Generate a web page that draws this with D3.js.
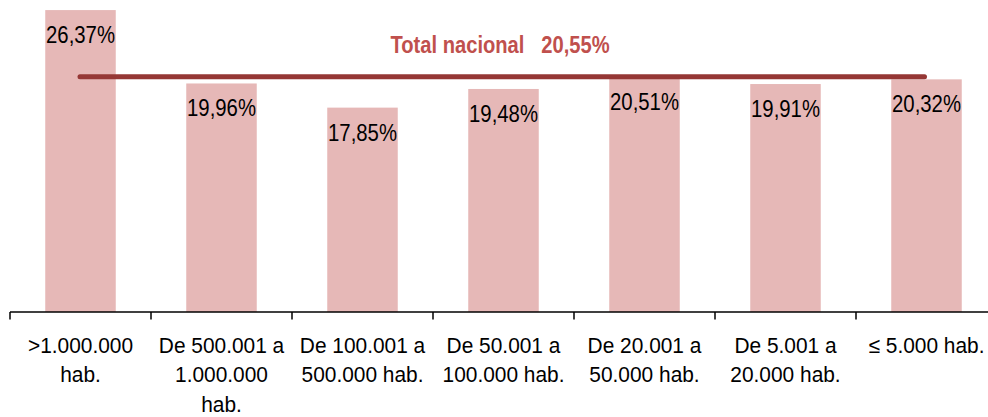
<!DOCTYPE html>
<html><head><meta charset="utf-8">
<script src="https://cdn.jsdelivr.net/npm/d3@7"></script>
<style>
html,body{margin:0;padding:0;background:#fff;}
svg{display:block;}
text{font-family:"Liberation Sans Narrow","Arial Narrow","Liberation Sans",Arial,sans-serif;}
</style></head>
<body>
<svg id="chart" width="988" height="417"></svg>
<script>
const categories = [
  [">1.000.000", "hab."],
  ["De 500.001 a", "1.000.000", "hab."],
  ["De 100.001 a", "500.000 hab."],
  ["De 50.001 a", "100.000 hab."],
  ["De 20.001 a", "50.000 hab."],
  ["De 5.001 a", "20.000 hab."],
  ["≤ 5.000 hab."]
];
const values = [26.37, 19.96, 17.85, 19.48, 20.51, 19.91, 20.32];
const totalLabel = "Total nacional";
const totalValue = 20.55;

const fmt = v => v.toFixed(2).replace(".", ",") + "%";
const keys = categories.map((c, i) => i);

const svg = d3.select("#chart");
const x = d3.scaleBand().domain(keys).range([10, 997]).paddingInner(0.5).paddingOuter(0.25);
const y = d3.scaleLinear().domain([0, 27.25]).range([312, 0]);

// bars
svg.append("g").selectAll("rect").data(values).join("rect")
  .attr("x", (d, i) => x(i))
  .attr("y", d => y(d))
  .attr("width", x.bandwidth())
  .attr("height", d => y(0) - y(d))
  .attr("fill", "#e6b8b7");

// value labels
svg.append("g").selectAll("text").data(values).join("text")
  .attr("transform", (d, i) => `translate(${x(i) + x.bandwidth() / 2},${y(d) + 33}) scale(0.83,1)`)
  .attr("text-anchor", "middle")
  .attr("font-size", 24.5)
  .attr("fill", "#000")
  .text(d => fmt(d));

// total line
const cx0 = x(keys[0]) + x.bandwidth() / 2;
const cx1 = x(keys[keys.length - 1]) + x.bandwidth() / 2;
svg.append("line")
  .attr("x1", cx0 - 0.5).attr("x2", cx1 - 2)
  .attr("y1", y(totalValue)).attr("y2", y(totalValue))
  .attr("stroke", "#953735").attr("stroke-width", 5).attr("stroke-linecap", "round");

svg.append("text")
  .attr("transform", "translate(500,53) scale(0.84,1)")
  .attr("text-anchor", "middle")
  .attr("font-size", 24).attr("font-weight", "bold")
  .attr("fill", "#c0504d")
  .attr("xml:space", "preserve")
  .style("white-space", "pre")
  .text(totalLabel + "   " + fmt(totalValue));

// axis
const axisG = svg.append("g").attr("transform", `translate(0,${y(0)})`);
const ax = d3.axisBottom(x).tickSize(0).tickFormat(() => "");
axisG.call(ax);
axisG.select(".domain").remove();
axisG.selectAll(".tick").each(function(d, i) {
  const t = d3.select(this).select("text").text(null)
    .attr("y", 41).attr("dy", null)
    .attr("transform", "scale(0.95,1)")
    .attr("font-size", 22).attr("fill", "#000")
    .attr("font-family", null);
  categories[d].forEach((line, j) => {
    t.append("tspan").attr("x", 0).attr("dy", j === 0 ? 0 : 29.5).text(line);
  });
});
const [r0, r1] = x.range();
axisG.append("line").attr("x1", r0).attr("x2", r1).attr("y1", 0).attr("y2", 0)
  .attr("stroke", "#000").attr("stroke-width", 1.5);
const bounds = keys.map(k => x(k) - x.step() * x.paddingOuter()).concat([r1]);
axisG.selectAll(".bound").data(bounds).join("line")
  .attr("class", "bound")
  .attr("x1", d => d).attr("x2", d => d)
  .attr("y1", 0).attr("y2", 7.5)
  .attr("stroke", "#000").attr("stroke-width", 1.5);
</script>
</body></html>
